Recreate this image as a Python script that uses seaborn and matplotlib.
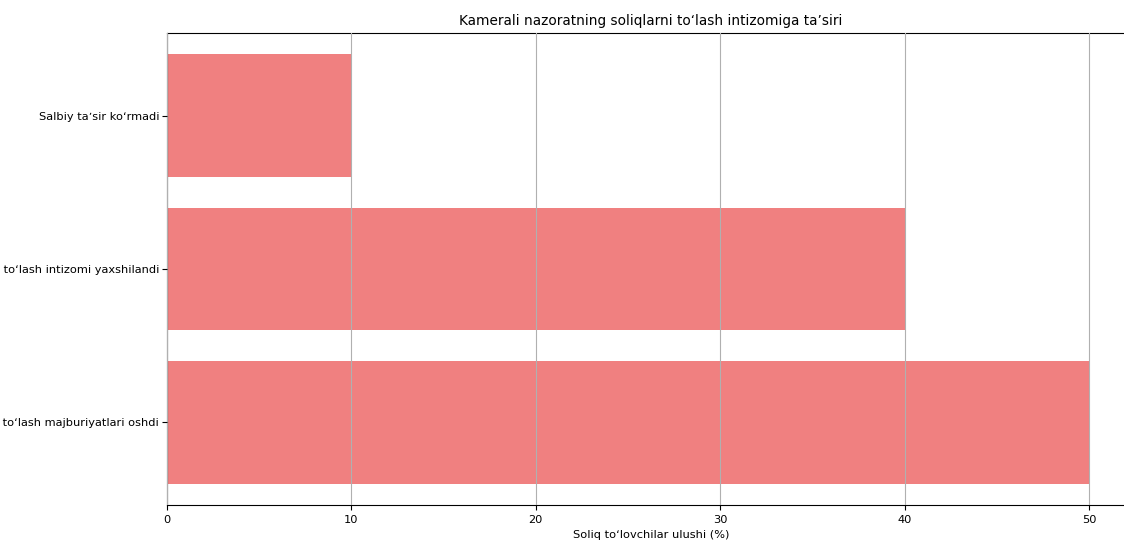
import matplotlib
matplotlib.use("Agg")
import matplotlib.pyplot as plt
import seaborn as sns

categories = [
    "Salbiy taʼsir koʻrmadi",
    "Soliq toʻlash intizomi yaxshilandi",
    "Soliq toʻlash majburiyatlari oshdi",
]
shares = [10, 40, 50]

plt.rcParams["font.size"] = 8.2

fig = plt.figure(figsize=(11.24, 5.4), dpi=100)
ax = fig.add_axes([167 / 1124, 35 / 540, 968 / 1124, 472 / 540])

sns.barplot(x=shares, y=categories, orient="h", color="lightcoral",
            saturation=1, width=0.8, ax=ax)

ax.set_xlim(0, 52.5)
ax.set_ylim(2.54, -0.54)
ax.set_xticks([0, 10, 20, 30, 40, 50])
ax.tick_params(labelsize=8.2)
ax.tick_params(axis="y", pad=2.2)
ax.grid(axis="x", color="#b0b0b0", linewidth=0.8)
ax.set_axisbelow(False)
ax.set_title("Kamerali nazoratning soliqlarni toʻlash intizomiga taʼsiri", fontsize=9.8)
ax.set_xlabel("Soliq toʻlovchilar ulushi (%)", fontsize=8.2)
ax.set_ylabel("")

fig.savefig("out.png", dpi=100)
